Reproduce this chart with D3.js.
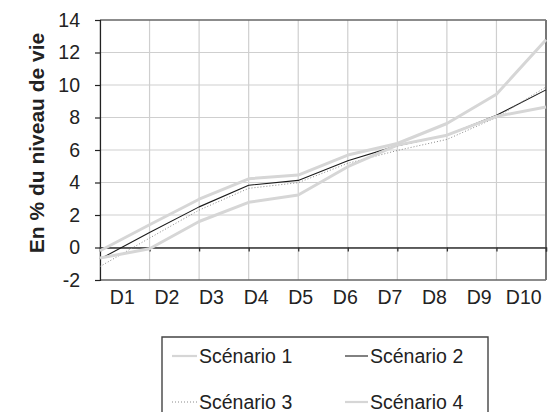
<!DOCTYPE html>
<html>
<head>
<meta charset="utf-8">
<script src="https://cdn.jsdelivr.net/npm/d3@7"></script>
<style>
  html, body { margin: 0; padding: 0; background: #fff; }
  svg { display: block; font-family: "Liberation Sans", Arial, Helvetica, sans-serif; }
</style>
</head>
<body>
<svg id="chart" width="557" height="412"></svg>
<script>
// Déciles de niveau de vie
const categories = ["D1", "D2", "D3", "D4", "D5", "D6", "D7", "D8", "D9", "D10"];

// Variation en % du niveau de vie, par scénario
const scenario1 = [-0.2, 1.4, 2.97, 4.23, 4.46, 5.69, 6.4, 7.63, 9.43, 12.78];
const scenario2 = [-0.71, 0.92, 2.5, 3.83, 4.13, 5.34, 6.27, 6.91, 8.14, 9.7];
const scenario3 = [-1.17, 0.58, 2.3, 3.64, 3.99, 5.18, 5.97, 6.65, 8.0, 9.88];
const scenario4 = [-0.65, -0.08, 1.6, 2.78, 3.23, 4.97, 6.3, 6.91, 8.07, 8.65];

const seriesNames = ["Scénario 1", "Scénario 2", "Scénario 3", "Scénario 4"];
const yTicks = [-2, 0, 2, 4, 6, 8, 10, 12, 14];
const yTitle = "En % du niveau de vie";

const series = [
  { name: seriesNames[0], values: scenario1, stroke: "#d6d6d6", width: 3, dash: null },
  { name: seriesNames[1], values: scenario2, stroke: "#1a1a1a", width: 1.1, dash: null },
  { name: seriesNames[2], values: scenario3, stroke: "#8a8a8a", width: 1, dash: "1,2" },
  { name: seriesNames[3], values: scenario4, stroke: "#d6d6d6", width: 3, dash: null }
];

const svg = d3.select("#chart");
const plot = { left: 100, right: 546, top: 20, bottom: 280 };
const fontSize = 19.5;

const x = d3.scalePoint().domain(categories).range([plot.left, plot.right]).padding(0);
const xBand = d3.scaleBand().domain(categories).range([plot.left, plot.right]);
const y = d3.scaleLinear().domain([-2, 14]).range([plot.bottom, plot.top]);

// Grille
svg.append("g")
  .selectAll("line.h")
  .data(yTicks)
  .join("line")
  .attr("x1", plot.left).attr("x2", plot.right)
  .attr("y1", d => y(d)).attr("y2", d => y(d))
  .attr("stroke", "#cfcfcf").attr("stroke-width", 1.2);

svg.append("g")
  .selectAll("line.v")
  .data(categories)
  .join("line")
  .attr("x1", d => x(d)).attr("x2", d => x(d))
  .attr("y1", plot.top).attr("y2", plot.bottom)
  .attr("stroke", "#cfcfcf").attr("stroke-width", 1.2);

// Cadre
svg.append("line")
  .attr("x1", plot.left).attr("x2", plot.right)
  .attr("y1", plot.top).attr("y2", plot.top)
  .attr("stroke", "#333").attr("stroke-width", 1.2);
svg.append("line")
  .attr("x1", plot.left).attr("x2", plot.right)
  .attr("y1", plot.bottom).attr("y2", plot.bottom)
  .attr("stroke", "#333").attr("stroke-width", 1.2);
svg.append("line")
  .attr("x1", plot.right).attr("x2", plot.right)
  .attr("y1", plot.top).attr("y2", plot.bottom)
  .attr("stroke", "#777").attr("stroke-width", 2);

// Axe vertical
const yAxis = svg.append("g")
  .attr("transform", `translate(${plot.left},0)`)
  .call(d3.axisLeft(y).tickValues(yTicks).tickSize(5).tickPadding(15).tickFormat(d => String(d)));
yAxis.select(".domain").attr("stroke", "#222").attr("stroke-width", 1.2);
yAxis.selectAll(".tick line").attr("stroke", "#222").attr("stroke-width", 1.2);
yAxis.selectAll(".tick text")
  .attr("fill", "#222").attr("font-size", fontSize)
  .attr("font-family", "'Liberation Sans', Arial, sans-serif");

// Axe horizontal à zéro (graduations)
const xTickAxis = svg.append("g")
  .attr("transform", `translate(0,${y(0)})`)
  .call(d3.axisBottom(x).tickSize(4).tickFormat(""));
xTickAxis.select(".domain").attr("stroke", "#333").attr("stroke-width", 1.3);
xTickAxis.selectAll(".tick line").attr("stroke", "#333").attr("stroke-width", 1.3);

// Étiquettes des déciles
const xLabelAxis = svg.append("g")
  .attr("transform", `translate(0,${plot.bottom})`)
  .call(d3.axisBottom(xBand).tickSize(0).tickPadding(10));
xLabelAxis.select(".domain").remove();
xLabelAxis.selectAll(".tick text")
  .attr("fill", "#222").attr("font-size", fontSize)
  .attr("font-family", "'Liberation Sans', Arial, sans-serif");

// Titre de l'axe vertical
svg.append("text")
  .attr("transform", `translate(44,143) rotate(-90)`)
  .attr("text-anchor", "middle")
  .attr("font-size", 21)
  .attr("font-weight", "bold")
  .attr("fill", "#222")
  .text(yTitle);

// Courbes
const line = d3.line()
  .x((d, i) => x(categories[i]))
  .y(d => y(d));

svg.append("g")
  .selectAll("path")
  .data(series)
  .join("path")
  .attr("d", d => line(d.values))
  .attr("fill", "none")
  .attr("stroke", d => d.stroke)
  .attr("stroke-width", d => d.width)
  .attr("stroke-dasharray", d => d.dash)
  .attr("stroke-linejoin", "round");

// Légende
const legend = svg.append("g");
legend.append("path")
  .attr("d", "M162,420 V337 H488 V420")
  .attr("fill", "#fff")
  .attr("stroke", "#444")
  .attr("stroke-width", 1.4);

const legendPos = [
  { lx: 172, tx: 199, ty: 356 },
  { lx: 345, tx: 370, ty: 356 },
  { lx: 172, tx: 199, ty: 402 },
  { lx: 345, tx: 370, ty: 402 }
];

const items = legend.selectAll("g.item")
  .data(series)
  .join("g")
  .attr("class", "item");

items.append("line")
  .attr("x1", (d, i) => legendPos[i].lx)
  .attr("x2", (d, i) => legendPos[i].tx - 2)
  .attr("y1", (d, i) => legendPos[i].ty)
  .attr("y2", (d, i) => legendPos[i].ty)
  .attr("stroke", d => d.stroke)
  .attr("stroke-width", d => Math.min(d.width, 2.2))
  .attr("stroke-dasharray", d => d.dash);

items.append("text")
  .attr("x", (d, i) => legendPos[i].tx)
  .attr("y", (d, i) => legendPos[i].ty)
  .attr("dy", "0.35em")
  .attr("font-size", fontSize)
  .attr("fill", "#222")
  .text(d => d.name);
</script>
</body>
</html>
